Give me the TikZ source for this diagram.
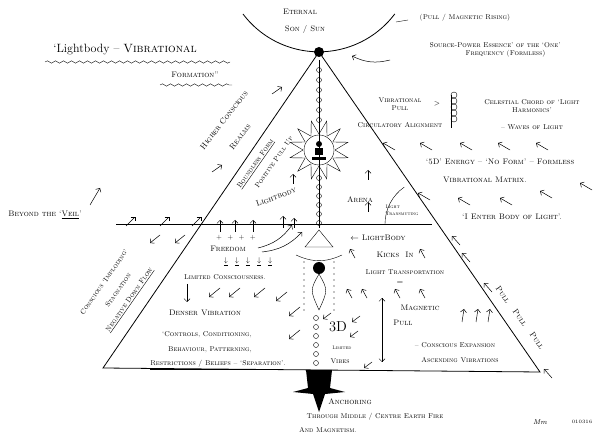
\documentclass[tikz,border=0pt]{standalone}
\usetikzlibrary{arrows.meta,decorations.pathmorphing,calc}
\tikzset{
  hand/.style={font=\scshape\footnotesize, inner sep=1pt},
  handsm/.style={font=\scshape\scriptsize, inner sep=1pt},
  arr/.style={-{Straight Barb[length=3pt]}, line width=0.5pt},
  edge/.style={line width=0.8pt},
  wavy/.style={decorate, decoration={snake, amplitude=1.2pt, segment length=8pt}}
}
\newcommand{\freearrows}[3]{% name, dx/dy, list of x/y
  \foreach \ax/\ay [count=\i] in {#3} {
    \coordinate (#1s\i) at (\ax,\ay);
    \coordinate (#1e\i) at ($(#1s\i)+(#2)$);
    \draw[arr] (#1s\i) -- (#1e\i);
  }}
\begin{document}
\begin{tikzpicture}[x=1pt,y=-1pt]
\useasboundingbox (0,0) rectangle (616,438);

% Sun and apex
\draw[edge] (243,14) arc[start angle=143, end angle=37, radius=95];
\node[hand] (eternal) at (300,12) {Eternal};
\node[hand] (son) at (305,30) {Son / Sun};
\fill (319,52) circle (5);
\coordinate (apex) at (319,52);

% Triangle and veil
\coordinate (bl) at (103,368);
\coordinate (br) at (540,372);
\draw[edge] (apex) -- (bl) -- (br) -- cycle;
\coordinate (veilL) at (116,224);
\coordinate (veilR) at (432,224);
\draw[edge] (veilL) -- (veilR);
\draw (385,224) arc[start angle=180, end angle=235, radius=45];

% Title
\node[font=\large] (title) at (125,50) {`Lightbody -- {\scshape Vibrational}};
\node[hand] (formation) at (195,75) {Formation''};
\draw[wavy] (45,62) -- (230,62);
\draw[wavy] (160,85) -- (232,85);

% Top right texts
\node[handsm] (rising) at (465,18) {(Pull / Magnetic Rising)};
\draw (396,22) -- (408,20);
\node[handsm, align=center] (source) at (495,50) {Source-Power Essence' of the `One'\\\hspace*{3em}Frequency (Formless)};
\draw[arr] (390,60) to[bend left=20] (352,56);
\node[handsm, align=center] (vibpull) at (400,104) {Vibrational\\Pull};
\node[handsm] (circ) at (400,125) {Circulatory Alignment};
\node[handsm] at (437,104) {$>$};
\foreach \k in {0,...,4} \draw (454,95+6*\k) circle (3);
\draw (451,95) -- (451,128);
\node[handsm, align=center] (chord) at (532,106) {Celestial Chord of `Light\\Harmonics'};
\node[handsm] (waves) at (532,127) {-- Waves of Light};
\freearrows{a}{-12,-7}{395/150,432/150,472/150,510/150,548/150}
\node[hand] (fived) at (500,162) {`5D' Energy -- `No Form' -- Formless};
\node[hand] (matrix) at (485,180) {Vibrational Matrix.};
\freearrows{b}{-12,-7}{592/190,430/200,470/205,512/205,552/198}
\node[font=\scshape\tiny, align=left] (transm) at (402,210) {Light\\[1pt]Transmuting};
\node[hand] (enter) at (512,217) {`I Enter Body of Light'.};

% Left upper texts
\node[hand, rotate=52] (higher) at (224,120) {Higher Conscious};
\node[hand, rotate=52] (realms) at (240,137) {Realms};
\node[handsm, rotate=55] (bound) at (256,164) {\underline{Boundless Form}};
\node[handsm, rotate=55] (positive) at (274,162) {Positive Pull Up};
\freearrows{c}{10,-7}{272/94,212/172}
\node[hand] (beyond) at (45,215) {Beyond the `\underline{Veil}'};
\draw[arr] (90,205) -- (100,188);
\freearrows{d}{9,-9}{126/226,160/226,192/226}

% Central channel
\foreach \k in {0,...,5} \draw (319,70+10*\k) circle (2.5);
\foreach \k in {0,...,5} \draw (319,178+9*\k) circle (2.5);
\draw (319,60) -- (319,228);
\draw (319,150) circle (15);
\foreach \a in {0,30,...,330} \draw ($(319,150)+(\a:16)$) -- ($(319,150)+(\a+15:30)$) -- ($(319,150)+(\a+30:16)$);
\fill (315,148) rectangle (323,155);
\fill (319,144) circle (3);
\fill (312,157) rectangle (326,160);
\node[hand, rotate=20] (lbody) at (276,197) {Lightbody};
\node[hand] (arena) at (360,200) {Arena};
\freearrows{e}{0,-10}{293/184,368/180,368/212,294/228}

% Below veil, centre
\draw (305,247) -- (319,230) -- (333,247) -- cycle;
\draw (296,255) to[bend right=25] (342,255);
\fill (319,268) circle (6);
\draw (319,274) .. controls (310,290) .. (319,310) .. controls (328,290) .. (319,274);
\foreach \k in {0,...,8} {\fill (304,262+6*\k) circle (0.6); \fill (334,262+6*\k) circle (0.6);}
\foreach \k in {0,...,5} \draw (316,318+9*\k) circle (2.5);
\node[hand] (lb2) at (378,238) {$\leftarrow$ LightBody};
\node[hand] (kicks) at (395,255) {Kicks \ In};
\node[handsm] (transp) at (405,272) {Light Transportation};
\node[hand] (eq) at (400,283) {=};
\freearrows{f}{-5,-9}{355/258,425/258,352/298,367/298,400/298,425/298}
\node[hand] (magnetic) at (420,308) {Magnetic};
\node[hand] (pull) at (403,323) {Pull};
\freearrows{g}{2,-13}{462/322,476/322,488/322}
\node[handsm] (expansion) at (455,345) {-- Conscious Expansion};
\node[handsm] (ascending) at (460,360) {Ascending Vibrations};
\coordinate (mt) at (382,298);
\coordinate (mb) at (382,362);
\draw[{Straight Barb[length=3pt]}-{Straight Barb[length=3pt]}] (mt) -- (mb);
\node[font=\Large] (threed) at (338,327) {3D};
\node[font=\scshape\tiny] (limited) at (342,348) {Limited};
\node[font=\scshape\scriptsize] (vibes) at (340,361) {Vibes};
\freearrows{h}{-8,6}{331/313,360/316,358/331,372/362}

% Right edge
\freearrows{k}{-8,-9}{460/245,470/262,492/292,552/378}
\node[hand, rotate=-55] (pull1) at (503,295) {Pull};
\node[hand, rotate=-55] (pull2) at (520,318) {Pull};
\node[hand, rotate=-55] (pull3) at (537,341) {Pull};

% Left lower
\node[handsm] (plus) at (236,238) {+ \ + \ + \ +};
\node[hand] (freedom) at (228,249) {Freedom};
\freearrows{m}{0,-12}{220/232,235/232,253/232,283/228}
\draw[arr] (258,248) to[bend right=20] (292,225);
\draw[arr] (262,252) to[bend right=20] (302,232);
\node[handsm] (fall) at (248,262) {$\underline{\downarrow}$\quad$\underline{\downarrow}$\quad$\underline{\downarrow}$\quad$\underline{\downarrow}$\quad$\underline{\downarrow}$};
\node[handsm] (limcon) at (225,277) {Limited Consciousness.};
\coordinate (ds) at (187,284);
\coordinate (de) at (187,302);
\draw[arr] (ds) -- (de);
\freearrows{n}{-11,9}{220/288,240/288,265/288,287/292,300/307,300/330}
\freearrows{p}{-10,8}{160/235,185/235}
\node[hand] (denser) at (205,313) {Denser Vibration};
\node[handsm] (controls) at (207,335) {`Controls, Conditioning,};
\node[handsm] (behav) at (210,350) {Behaviour, Patterning,};
\node[handsm] (restr) at (218,365) {\underline{Restrictions / Beliefs -- `Separation'}.};
\node[handsm, rotate=55] (implod) at (104,282) {Conscious `Imploding'};
\node[handsm, rotate=55] (stag) at (118,290) {Stagnation};
\node[handsm, rotate=55] (negative) at (130,300) {\underline{Negative Down Flow}};

% Anchoring
\fill (306,370) -- (332,370) -- (330,388) -- (345,392) -- (325,394) -- (319,412) -- (313,394) -- (293,392) -- (308,388) -- cycle;
\node[hand] (anchor) at (350,402) {Anchoring};
\node[handsm] (through) at (375,417) {Through Middle / Centre Earth Fire};
\node[handsm] (magnetism) at (328,430) {And Magnetism.};
\node[font=\itshape\scriptsize] (sign) at (540,422) {Mm};
\node[font=\tiny] (date) at (582,422) {010316};
\end{tikzpicture}
\end{document}
